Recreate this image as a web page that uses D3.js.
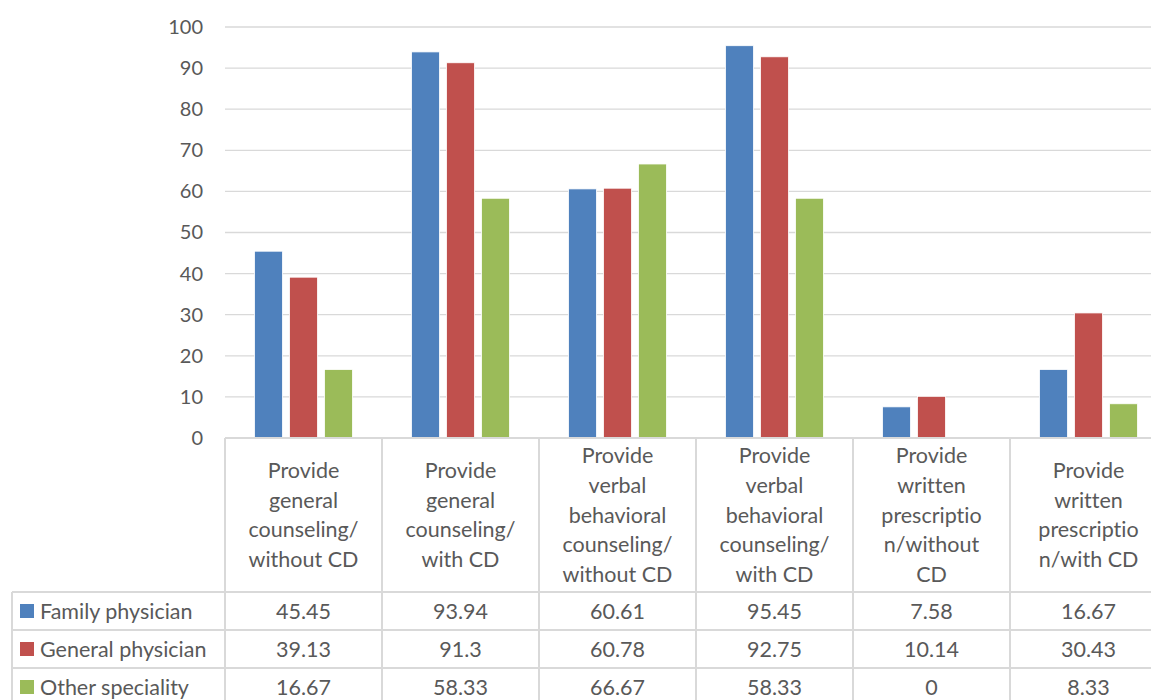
<!DOCTYPE html>
<html>
<head>
<meta charset="utf-8">
<script src="https://cdn.jsdelivr.net/npm/d3@7"></script>
<style>
  body { margin: 0; background: #fff; }
  svg text { font-family: Lato, "Noto Sans", sans-serif; fill: #595959; font-variant-ligatures: none; }
</style>
</head>
<body>
<svg id="chart" width="1151" height="700"></svg>
<script>
// datos del grafico
const categories = [
  ["Provide", "general", "counseling/", "without CD"],
  ["Provide", "general", "counseling/", "with CD"],
  ["Provide", "verbal", "behavioral", "counseling/", "without CD"],
  ["Provide", "verbal", "behavioral", "counseling/", "with CD"],
  ["Provide", "written", "prescriptio", "n/without", "CD"],
  ["Provide", "written", "prescriptio", "n/with CD"]
];
const seriesNames = ["Family physician", "General physician", "Other speciality"];
const familyPhysician = [45.45, 93.94, 60.61, 95.45, 7.58, 16.67];
const generalPhysician = [39.13, 91.3, 60.78, 92.75, 10.14, 30.43];
const otherSpeciality = [16.67, 58.33, 66.67, 58.33, 0, 8.33];
const yTicks = [0, 10, 20, 30, 40, 50, 60, 70, 80, 90, 100];
const colors = ["#4f81bd", "#c0504d", "#9bbb59"];

const values = [familyPhysician, generalPhysician, otherSpeciality];

const svg = d3.select("#chart");

const plotLeft = 225, plotRight = 1167, plotTop = 27, plotBottom = 438;
const tableLeft = 12;
const headerBottom = 592, rowH = 38;
const gridColor = "#d9d9d9";
const tableFont = "21.5px";

const x0 = d3.scaleBand().domain(d3.range(categories.length)).range([plotLeft, plotRight]);
const x1 = d3.scaleBand().domain(d3.range(seriesNames.length))
  .range([0, x0.bandwidth()]).paddingInner(0.2).paddingOuter(0.843);
const y = d3.scaleLinear().domain([0, 100]).range([plotBottom, plotTop]);

// lineas de la grilla
svg.append("g").selectAll("line").data(yTicks.filter(d => d > 0)).join("line")
  .attr("x1", plotLeft).attr("x2", plotRight)
  .attr("y1", d => y(d)).attr("y2", d => y(d))
  .attr("stroke", gridColor).attr("stroke-width", 1.3);

// eje y
const axisY = d3.axisLeft(y).tickValues(yTicks).tickSize(0).tickPadding(22);
const gy = svg.append("g").attr("transform", `translate(${plotLeft},0)`).call(axisY);
gy.select(".domain").remove();
gy.selectAll("text").style("font-size", "20px").attr("fill", "#595959")
  .style("font-family", "Lato, 'Noto Sans', sans-serif");

// barras
const groups = svg.append("g").selectAll("g").data(categories).join("g")
  .attr("transform", (d, i) => `translate(${x0(i)},0)`);
groups.selectAll("rect")
  .data((d, i) => values.map((s, k) => ({ k: k, v: s[i] })))
  .join("rect")
  .attr("x", d => x1(d.k))
  .attr("width", x1.bandwidth())
  .attr("y", d => y(d.v))
  .attr("height", d => plotBottom - y(d.v))
  .attr("fill", d => colors[d.k])
  .attr("stroke", "#fff").attr("stroke-width", 0.8);

// tabla de datos
const table = svg.append("g");
// lineas verticales
table.selectAll("line.v").data(d3.range(categories.length + 1)).join("line")
  .attr("class", "v")
  .attr("x1", i => i < categories.length ? x0(i) : plotRight)
  .attr("x2", i => i < categories.length ? x0(i) : plotRight)
  .attr("y1", plotBottom).attr("y2", 720)
  .attr("stroke", gridColor).attr("stroke-width", 2);
table.append("line").attr("x1", tableLeft).attr("x2", tableLeft)
  .attr("y1", headerBottom).attr("y2", 720)
  .attr("stroke", gridColor).attr("stroke-width", 2);
// lineas horizontales
table.append("line").attr("x1", plotLeft).attr("x2", plotRight)
  .attr("y1", plotBottom).attr("y2", plotBottom)
  .attr("stroke", gridColor).attr("stroke-width", 2);
table.selectAll("line.h").data(d3.range(seriesNames.length + 1)).join("line")
  .attr("class", "h")
  .attr("x1", tableLeft).attr("x2", plotRight)
  .attr("y1", i => headerBottom + i * rowH).attr("y2", i => headerBottom + i * rowH)
  .attr("stroke", gridColor).attr("stroke-width", 2);

// encabezados de categorias
const headMid = (plotBottom + headerBottom) / 2;
const lineH = 29.6;
categories.forEach((lines, i) => {
  const t = table.append("text")
    .attr("x", x0(i) + x0.bandwidth() / 2)
    .attr("text-anchor", "middle")
    .style("font-size", tableFont);
  const y0 = headMid - (lines.length - 1) * lineH / 2;
  lines.forEach((ln, j) => {
    t.append("tspan").attr("x", x0(i) + x0.bandwidth() / 2)
      .attr("y", y0 + j * lineH).attr("dy", "0.35em").text(ln);
  });
});

// filas con leyenda
seriesNames.forEach((name, k) => {
  const cy = headerBottom + k * rowH + rowH / 2;
  table.append("rect").attr("x", 20).attr("y", cy - 7)
    .attr("width", 14).attr("height", 14).attr("fill", colors[k]);
  table.append("text").attr("x", 40).attr("y", cy).attr("dy", "0.35em")
    .style("font-size", tableFont).text(name);
  values[k].forEach((v, i) => {
    table.append("text").attr("x", x0(i) + x0.bandwidth() / 2)
      .attr("y", cy).attr("dy", "0.35em")
      .attr("text-anchor", "middle").style("font-size", tableFont).text(v);
  });
});
</script>
</body>
</html>
